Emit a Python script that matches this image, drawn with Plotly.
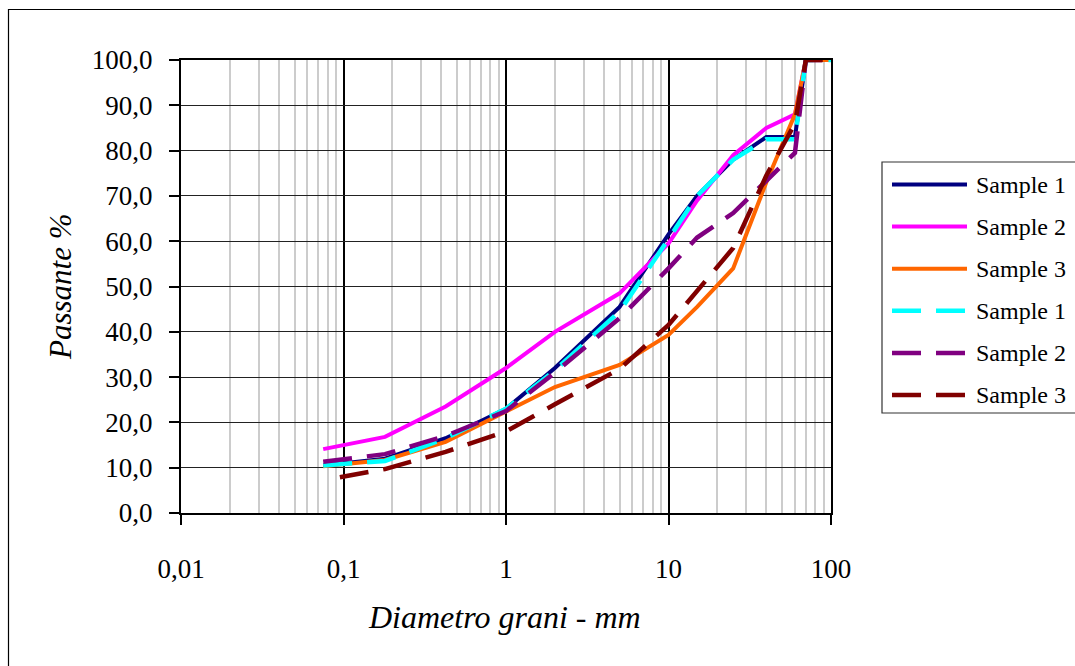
import plotly.graph_objects as go

# ---------------- data ----------------
sieve_mm = [0.075, 0.18, 0.425, 1, 2, 5, 10, 15, 25, 40, 60, 70, 100]
sieve_mm_s3b = [0.095, 0.18, 0.425, 1, 2, 5, 10, 15, 25, 40, 60, 70, 100]

sample1_a = [10.5, 12.0, 16.5, 23.0, 32.0, 45.5, 61.5, 70.0, 78.0, 83.0, 83.0, 100.0, 100.0]
sample2_a = [14.1, 16.8, 23.5, 32.0, 40.0, 48.5, 59.5, 69.0, 79.0, 85.0, 88.0, 100.0, 100.0]
sample3_a = [10.3, 11.7, 15.7, 22.3, 27.8, 32.7, 39.3, 45.5, 54.0, 73.0, 88.0, 100.0, 100.0]
sample1_b = [10.5, 11.5, 16.5, 23.0, 31.5, 44.5, 60.5, 70.0, 78.0, 82.5, 82.5, 100.0, 100.0]
sample2_b = [11.3, 13.0, 17.0, 22.5, 31.0, 43.0, 54.0, 60.8, 66.2, 73.2, 79.5, 100.0, 100.0]
sample3_b = [7.9, 9.7, 13.5, 18.0, 24.0, 31.8, 41.5, 49.0, 58.5, 74.5, 86.0, 100.0, 100.0]

series_names = ["Sample 1", "Sample 2", "Sample 3", "Sample 1", "Sample 2", "Sample 3"]
series_x = [sieve_mm, sieve_mm, sieve_mm, sieve_mm, sieve_mm, sieve_mm_s3b]
series_y = [sample1_a, sample2_a, sample3_a, sample1_b, sample2_b, sample3_b]
series_colors = ["#000080", "#FF00FF", "#FF6600", "#00FFFF", "#800080", "#800000"]
series_dashes = ["solid", "solid", "solid", "29px,15px", "29px,15px", "29px,15px"]
series_widths = [4, 4, 4, 4.5, 4.5, 4.5]

x_tickvals = [0.01, 0.1, 1, 10, 100]
x_ticktext = ["0,01", "0,1", "1", "10", "100"]
y_tickvals = [0, 10, 20, 30, 40, 50, 60, 70, 80, 90, 100]
y_ticktext = ["0,0", "10,0", "20,0", "30,0", "40,0", "50,0", "60,0", "70,0", "80,0", "90,0", "100,0"]
x_minor = [k * 10 ** e for e in (-2, -1, 0, 1) for k in range(2, 10)]

FONT = "Liberation Serif, Times New Roman, serif"
W, H = 1075, 666
L, R, T, B = 181, 244, 60, 153
PW, PH = W - L - R, H - T - B


def px(xp):
    return (xp - L) / PW


def py(yp):
    return (H - B - yp) / PH


fig = go.Figure()
for xs, ys, name, col, dash, w in zip(series_x, series_y, series_names,
                                      series_colors, series_dashes, series_widths):
    fig.add_trace(go.Scatter(x=xs, y=ys, name=name, mode="lines",
                             line=dict(color=col, dash=dash, width=w),
                             showlegend=False))

shapes = []
annotations = []

# outer chart frame
shapes.append(dict(type="rect", xref="paper", yref="paper",
                   x0=px(8.5), x1=px(1200), y0=py(800), y1=py(9.5),
                   line=dict(color="#000000", width=1.2), layer="above"))

# custom legend
shapes.append(dict(type="rect", xref="paper", yref="paper",
                   x0=px(882), x1=px(1200), y0=py(413), y1=py(162),
                   line=dict(color="#333333", width=1.2), fillcolor="white", layer="above"))
row0, step = 184.5, 42.1
for i, (name, col, dash, w) in enumerate(zip(series_names, series_colors,
                                             series_dashes, series_widths)):
    yc = row0 + i * step
    shapes.append(dict(type="line", xref="paper", yref="paper",
                       x0=px(892), x1=px(967), y0=py(yc), y1=py(yc),
                       line=dict(color=col, dash=dash, width=w), layer="above"))
    annotations.append(dict(x=px(974), y=py(yc), xref="paper", yref="paper",
                            text=name, showarrow=False, xanchor="left", yanchor="middle",
                            font=dict(family=FONT, size=24, color="black")))

# axis titles
annotations.append(dict(x=px(60), y=py(287), xref="paper", yref="paper",
                        text="<i>Passante %</i>", textangle=-90, showarrow=False,
                        xanchor="center", yanchor="middle",
                        font=dict(family=FONT, size=31, color="black")))
annotations.append(dict(x=px(504), y=py(617), xref="paper", yref="paper",
                        text="<i>Diametro grani - mm</i>", showarrow=False,
                        xanchor="center", yanchor="middle",
                        font=dict(family=FONT, size=32, color="black")))

fig.update_layout(
    width=W, height=H,
    margin=dict(l=L, r=R, t=T, b=B, autoexpand=False),
    paper_bgcolor="white", plot_bgcolor="white",
    font=dict(family=FONT, size=26, color="black"),
    shapes=shapes, annotations=annotations,
    showlegend=False,
)
fig.update_xaxes(
    type="log", range=[-2, 2],
    tickvals=x_tickvals, ticktext=x_ticktext,
    showgrid=True, gridcolor="#000000", gridwidth=2,
    showline=True, linecolor="#000000", linewidth=2, mirror=True,
    ticks="outside", ticklen=10, tickcolor="#000000", tickwidth=1.5,
    ticklabelstandoff=21,
    tickfont=dict(family=FONT, size=27, color="black"),
    minor=dict(tickvals=x_minor, showgrid=True, gridcolor="#cccccc", gridwidth=1.5, ticks=""),
    zeroline=False,
)
fig.update_yaxes(
    range=[0, 100],
    tickvals=y_tickvals, ticktext=y_ticktext,
    showgrid=True, gridcolor="#222222", gridwidth=1.4,
    showline=True, linecolor="#000000", linewidth=2, mirror=True,
    ticks="outside", ticklen=10, tickcolor="#000000", tickwidth=1.5,
    ticklabelstandoff=11,
    tickfont=dict(family=FONT, size=27, color="black"),
    zeroline=False,
)

fig.write_html("out.html")
